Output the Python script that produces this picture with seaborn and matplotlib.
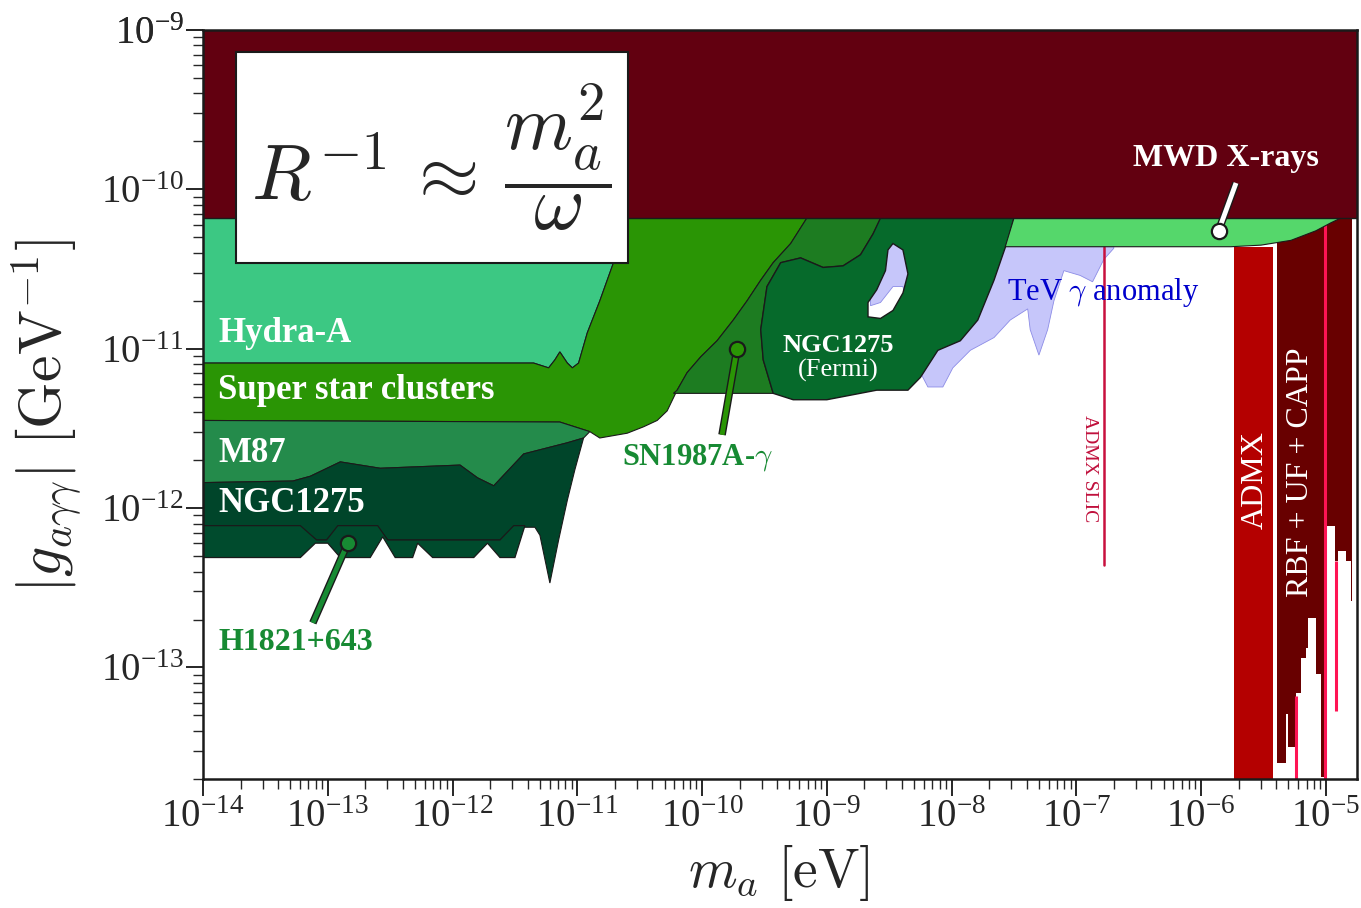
import numpy as np
import matplotlib
matplotlib.use("Agg")
import matplotlib.pyplot as plt
import seaborn as sns
from matplotlib.path import Path
from matplotlib.patches import PathPatch, Rectangle
from matplotlib.ticker import LogLocator, FixedLocator
import matplotlib.patheffects as pe

# all values are log10(m_a / eV) and log10(g / GeV^-1)
cast_g = -10.18

hydra_m = [-14, -10.70, -10.71, -10.82, -10.92, -10.99, -11.04, -11.08, -11.14, -11.18, -11.23, -11.35, -14]
hydra_g = [-10.18, -10.18, -10.46, -10.70, -10.90, -11.09, -11.12, -11.09, -11.02, -11.07, -11.12, -11.09, -11.09]

ssc_m = [-14, -11.35, -11.23, -11.18, -11.14, -11.08, -11.04, -10.99, -10.92, -10.82, -10.71, -10.70,
         -9.16, -9.29, -9.43, -9.53, -9.64, -9.75, -9.88, -10.01, -10.12, -10.20, -10.28, -10.36,
         -10.47, -10.60, -10.82, -10.90, -11.02, -11.14, -14]
ssc_g = [-11.09, -11.09, -11.12, -11.07, -11.02, -11.09, -11.12, -11.09, -10.90, -10.70, -10.46, -10.18,
         -10.18, -10.34, -10.46, -10.57, -10.70, -10.82, -10.95, -11.05, -11.15, -11.26, -11.39, -11.45,
         -11.49, -11.53, -11.56, -11.52, -11.49, -11.46, -11.45]

m87_m = [-14, -11.14, -11.02, -10.90, -10.95, -11.08, -11.43, -11.67, -11.80, -11.94, -12.58, -12.90, -13.14, -13.28, -14]
m87_g = [-11.45, -11.46, -11.49, -11.52, -11.56, -11.59, -11.66, -11.86, -11.81, -11.73, -11.75, -11.71, -11.80, -11.83, -11.84]

ngc_m = [-14, -13.28, -13.14, -12.90, -12.58, -11.94, -11.80, -11.67, -11.43, -11.08, -10.95,
         -11.02, -11.08, -11.15, -11.22, -11.30, -11.34, -11.42, -11.51, -11.62, -12.52, -12.60,
         -12.92, -13.01, -13.09, -13.22, -14]
ngc_g = [-11.84, -11.83, -11.80, -11.71, -11.75, -11.73, -11.81, -11.86, -11.66, -11.59, -11.56,
         -11.76, -11.95, -12.20, -12.47, -12.17, -12.12, -12.12, -12.12, -12.20, -12.20, -12.12,
         -12.12, -12.20, -12.20, -12.12, -12.12]

h1821_m = [-14, -13.22, -13.09, -13.01, -12.92, -12.60, -12.52, -11.62, -11.51, -11.42,
           -11.50, -11.62, -11.72, -11.83, -12.16, -12.28, -12.32, -12.46, -12.56, -12.66,
           -12.90, -13.00, -13.10, -13.22, -14]
h1821_g = [-12.11, -12.11, -12.20, -12.20, -12.11, -12.11, -12.20, -12.20, -12.11, -12.11,
           -12.31, -12.31, -12.22, -12.31, -12.31, -12.22, -12.31, -12.31, -12.18, -12.31,
           -12.31, -12.22, -12.22, -12.31, -12.31]

sn_m = [-9.16, -8.57, -8.57, -8.63, -8.73, -8.87, -9.03, -9.21, -9.37, -9.48, -9.53, -9.51, -9.43,
        -10.23, -10.20, -10.12, -10.01, -9.88, -9.75, -9.64, -9.53, -9.43, -9.29]
sn_g = [-10.18, -10.18, -10.19, -10.28, -10.41, -10.48, -10.49, -10.43, -10.46, -10.61, -10.88, -11.07, -11.28,
        -11.28, -11.26, -11.15, -11.05, -10.95, -10.82, -10.70, -10.57, -10.46, -10.34]

fermi_m = [-8.57, -8.63, -8.73, -8.87, -9.03, -9.21, -9.37, -9.48, -9.53, -9.51, -9.43, -9.27, -9.00,
           -8.60, -8.35, -8.25, -8.11, -7.93, -7.79, -7.66, -7.55, -7.50]
fermi_g = [-10.18, -10.28, -10.41, -10.48, -10.49, -10.43, -10.46, -10.61, -10.88, -11.07, -11.28, -11.32, -11.32,
           -11.26, -11.26, -11.18, -11.01, -10.95, -10.82, -10.57, -10.32, -10.18]
hole_m = [-8.47, -8.39, -8.35, -8.39, -8.47, -8.57, -8.67, -8.67, -8.60, -8.53, -8.51]
hole_g = [-10.34, -10.38, -10.53, -10.65, -10.76, -10.81, -10.80, -10.71, -10.63, -10.51, -10.38]

tev_m = [-8.65, -8.57, -8.47, -8.39, -8.33, -8.25, -8.19, -8.07, -7.99, -7.85, -7.66, -7.53, -7.39,
         -7.37, -7.30, -7.23, -7.18, -7.10, -6.97, -6.87, -6.78, -6.70, -6.70, -8.65]
tev_g = [-10.73, -10.71, -10.61, -10.61, -10.82, -11.15, -11.24, -11.24, -11.12, -11.01, -10.93, -10.82, -10.75,
         -10.88, -11.04, -10.88, -10.70, -10.51, -10.54, -10.58, -10.44, -10.37, -10.29, -10.29]

mwd_m = [-7.57, -5.76, -5.52, -5.28, -5.08, -4.96, -4.88, -7.50]
mwd_g = [-10.36, -10.36, -10.35, -10.32, -10.26, -10.21, -10.18, -10.18]

admx_m = [-5.74, -5.42]
admx_g = -10.36

rbf_m = [-5.39, -5.32, -5.30, -5.24, -5.20, -5.16, -5.14, -5.08, -5.04, -4.99, -4.93, -4.90, -4.84, -4.80, -4.79]
rbf_low = [-13.60, -13.29, -13.50, -13.16, -12.94, -12.88, -12.69, -13.04, -13.69, -12.11, -12.33, -12.27, -12.33, -12.58, -12.58]

pink_m = [-5.01, -4.92, -5.24]
pink_top = [-10.22, -12.33, -13.18]
pink_bot = [-13.70, -13.27, -13.70]

slic_m = -6.78
slic_g = [-10.36, -12.36]

# annotation pins: (dot, end of stick)
h1821_pin = ([-12.84, -13.12], [-12.22, -12.72])
sn_pin = ([-9.72, -9.84], [-11.00, -11.54])
mwd_pin = ([-5.86, -5.72], [-10.26, -9.96])

x_decades = list(range(-14, -4))
y_decades = list(range(-13, -8))

sns.set_theme(style="ticks")
plt.rcParams['font.family'] = ['Liberation Serif', 'DejaVu Serif']
plt.rcParams['mathtext.fontset'] = 'cm'

fig, ax = plt.subplots(figsize=(13.61, 9.08), dpi=100)
fig.subplots_adjust(left=0.1492, right=0.9971, bottom=0.142, top=0.967)
ax.set_xscale('log')
ax.set_yscale('log')
xmin, xmax, ymin, ymax = 1e-14, 10**-4.75, 10**-13.7, 1e-9


def p(v):
    return 10**np.asarray(v, dtype=float)


def region(m, g, fc, ec='k', lw=0.8, z=1):
    ax.fill(p(m), p(g), facecolor=fc, edgecolor=ec, lw=lw, zorder=z)


# top band
ax.fill_between([xmin, xmax], p(cast_g), ymax, color='#620010', lw=0, zorder=5)
ax.axhline(p(cast_g), color='k', lw=1.0, zorder=5.1)

region(hydra_m, hydra_g, '#3cc883')
region(ssc_m, ssc_g, '#2a9505')
region(m87_m, m87_g, '#248b4b')
region(ngc_m, ngc_g, '#00452a')
region(h1821_m, h1821_g, '#004b2d', lw=0.9)
region(tev_m, tev_g, '#c6c6fa', ec='#8c8ce6', lw=0.6)
region(sn_m, sn_g, '#1d7c21', lw=0.8)

# Fermi region with its hole
outer = np.column_stack([p(fermi_m), p(fermi_g)])
inner = np.column_stack([p(hole_m), p(hole_g)])


def area(m, g):
    m = np.asarray(m); g = np.asarray(g)
    return 0.5 * np.sum(m * np.roll(g, -1) - np.roll(m, -1) * g)


if np.sign(area(fermi_m, fermi_g)) == np.sign(area(hole_m, hole_g)):
    inner = inner[::-1]
path = Path.make_compound_path(Path(np.vstack([outer, outer[:1]]), closed=True),
                               Path(np.vstack([inner, inner[:1]]), closed=True))
ax.add_patch(PathPatch(path, facecolor='#066a2b', edgecolor='k', lw=1.0, zorder=2))

# haloscopes
ax.fill_between(p(admx_m), ymin, p(admx_g), color='#b40000', lw=0, zorder=3)
ax.fill_between(p(rbf_m), p(rbf_low), p(cast_g), step='post', color='#680000', lw=0, zorder=3)
ax.vlines(p(pink_m), p(pink_bot), p(pink_top), color='#ff1454', lw=2.2, zorder=3.5)
region(mwd_m, mwd_g, '#55d76b', lw=0.8, z=4)

sns.lineplot(x=p([slic_m, slic_m]), y=p(slic_g), ax=ax, color='#c8103e', lw=1.8, zorder=3,
             sort=False, estimator=None, errorbar=None)

# pins
stroke = [pe.Stroke(linewidth=5.5, foreground='k'), pe.Normal()]
for (pm, pg), col in [(h1821_pin, '#178a33'), (sn_pin, '#2a9505'), (mwd_pin, 'white')]:
    ax.plot(p(pm), p(pg), color=col, lw=3.5, path_effects=stroke, zorder=6, solid_capstyle='butt')
    ax.plot(p(pm[0]), p(pg[0]), 'o', ms=11, mfc=col, mec='k', mew=1.6, zorder=7)

ax.set_xlim(xmin, xmax)
ax.set_ylim(ymin, ymax)

# labels inside the plot
bold = dict(fontweight='bold', color='white', fontsize=25, va='center', transform=ax.transAxes, zorder=8)
ax.text(0.013, 0.595, 'Hydra-A', **bold)
ax.text(0.013, 0.519, 'Super star clusters', **bold)
ax.text(0.013, 0.435, 'M87', **bold)
ax.text(0.013, 0.368, 'NGC1275', **bold)
ax.text(0.013, 0.182, 'H1821+643', fontweight='bold', color='#178a33', fontsize=23, va='center',
        transform=ax.transAxes, zorder=8)
ax.text(0.363, 0.429, r'SN1987A-$\gamma$', fontweight='bold', color='#178a33', fontsize=22, va='center',
        transform=ax.transAxes, zorder=8)
ax.text(0.550, 0.579, 'NGC1275', fontweight='bold', color='white', fontsize=19, ha='center', va='center',
        transform=ax.transAxes, zorder=8)
ax.text(0.550, 0.545, '(Fermi)', color='white', fontsize=19, ha='center', va='center',
        transform=ax.transAxes, zorder=8)
ax.text(0.697, 0.650, r'TeV $\gamma$ anomaly', color='#0000cc', fontsize=22, va='center',
        transform=ax.transAxes, zorder=8)
ax.text(0.886, 0.829, 'MWD X-rays', fontweight='bold', color='white', fontsize=23, ha='center', va='center',
        transform=ax.transAxes, zorder=8)
ax.text(0.768, 0.415, 'ADMX SLIC', color='#c0103c', fontsize=14, rotation=-90, ha='center', va='center',
        transform=ax.transAxes, zorder=8)
ax.text(0.912, 0.399, 'ADMX', color='white', fontsize=23, rotation=90, ha='center', va='center',
        transform=ax.transAxes, zorder=8)
ax.text(0.951, 0.410, 'RBF + UF + CAPP', color='white', fontsize=23, rotation=90, ha='center', va='center',
        transform=ax.transAxes, zorder=8)

# formula box
ax.add_patch(Rectangle((0.0286, 0.689), 0.3397, 0.282, transform=ax.transAxes, facecolor='white',
                       edgecolor='k', lw=1.5, zorder=9))
ax.text(0.198, 0.829, r'$R^{-1}\,\approx\,\dfrac{m_a^2}{\omega}$', fontsize=56, ha='center', va='center',
        transform=ax.transAxes, zorder=10)

ax.set_xlabel(r'$m_a\ [\mathrm{eV}]$', fontsize=40)
ax.set_ylabel(r'$|g_{a\gamma\gamma}|\ [\mathrm{GeV}^{-1}]$', fontsize=43)
ax.xaxis.set_label_coords(0.499, -0.085)
ax.yaxis.set_label_coords(-0.104, 0.485)

ax.xaxis.set_major_locator(FixedLocator(p(x_decades)))
ax.xaxis.set_minor_locator(LogLocator(base=10, subs=np.arange(2, 10), numticks=30))
ax.yaxis.set_major_locator(FixedLocator(p(y_decades + [-9])))
ax.yaxis.set_minor_locator(LogLocator(base=10, subs=np.arange(2, 10), numticks=30))
ax.tick_params(which='major', direction='out', length=12, width=1.4, labelsize=28, pad=2)
ax.tick_params(which='minor', direction='out', length=7, width=1.0)
for s in ax.spines.values():
    s.set_linewidth(1.8)
    s.set_color('k')
    s.set_zorder(11)

fig.savefig('out.png', dpi=100, facecolor='white')
